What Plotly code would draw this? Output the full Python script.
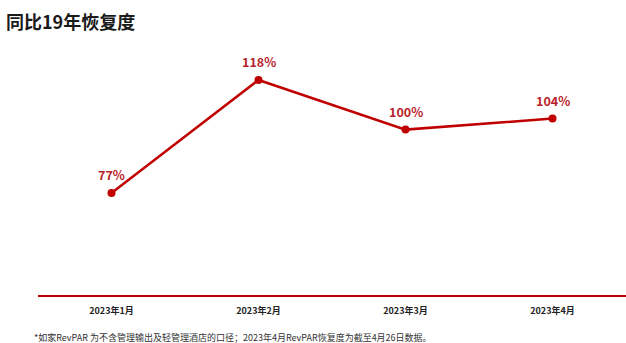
import plotly.graph_objects as go

# Monthly RevPAR recovery vs. 2019 (%)
months = ["2023年1月", "2023年2月", "2023年3月", "2023年4月"]
recovery = [77, 118, 100, 104]
labels = ["77%", "118%", "100%", "104%"]

RED = "#c00000"
FONT = "Noto Sans CJK SC, Noto Sans, sans-serif"

fig = go.Figure()
fig.add_trace(go.Scatter(
    x=months,
    y=recovery,
    mode="lines+markers",
    line=dict(color=RED, width=2.5),
    marker=dict(color=RED, size=8),
    cliponaxis=False,
    hoverinfo="skip",
))

# value labels above each point
value_labels = [
    dict(
        x=m, y=v, xref="x", yref="y",
        text=f"<b>{t}</b>",
        showarrow=False,
        yanchor="bottom",
        yshift=7,
        font=dict(family=FONT, size=12.5, color="#b8232a"),
    )
    for m, v, t in zip(months, recovery, labels)
]

fig.update_layout(
    width=626,
    height=343,
    margin=dict(l=38, r=0, t=45, b=48),
    paper_bgcolor="white",
    plot_bgcolor="white",
    showlegend=False,
    xaxis=dict(
        type="category",
        range=[-0.5, 3.5],
        showgrid=False,
        zeroline=False,
        showline=True,
        linecolor=RED,
        linewidth=2,
        ticks="",
        tickfont=dict(family=FONT, size=9, color="#222222", weight="bold"),
        ticklabelstandoff=6,
    ),
    yaxis=dict(
        range=[40, 130.7],
        visible=False,
        showgrid=False,
        zeroline=False,
    ),
    annotations=value_labels + [
        dict(
            text="<b>同比19年恢复度</b>",
            x=0, y=1, xref="paper", yref="paper",
            xanchor="left", yanchor="middle",
            xshift=-34, yshift=24,
            showarrow=False,
            font=dict(family=FONT, size=18, color="#1a1a1a"),
        ),
        dict(
            text="*如家RevPAR 为不含管理输出及轻管理酒店的口径；2023年4月RevPAR恢复度为截至4月26日数据。",
            x=0, y=0, xref="paper", yref="paper",
            xanchor="left", yanchor="middle",
            xshift=-6, yshift=-42,
            showarrow=False,
            font=dict(family=FONT, size=9, color="#333333"),
        ),
    ],
)

fig.write_html("out.html")
